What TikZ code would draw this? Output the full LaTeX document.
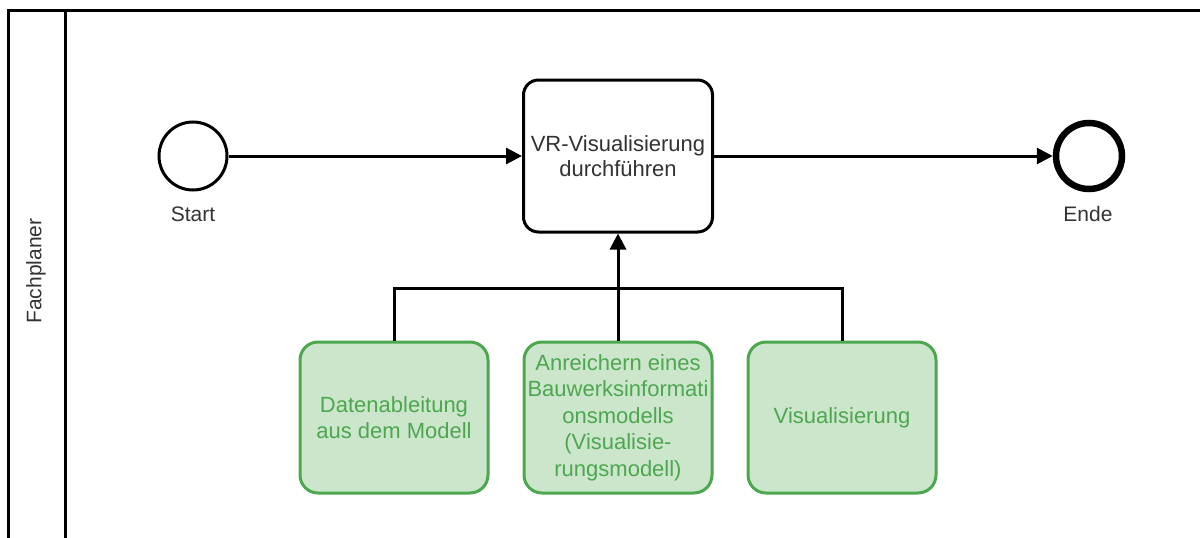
\documentclass[tikz,border=0pt]{standalone}
\usepackage{fontspec}
\setmainfont{Liberation Sans}
\usetikzlibrary{arrows.meta}
\definecolor{lanegreen}{RGB}{76,167,79}
\definecolor{boxgreen}{RGB}{204,230,204}
\definecolor{labelgray}{RGB}{51,51,51}
\tikzset{
  event/.style={circle,draw=black,line width=3pt,fill=white,minimum size=68pt,inner sep=0pt},
  endevent/.style={event,line width=6.5pt,minimum size=66pt},
  task/.style={rectangle,rounded corners=15pt,draw=black,line width=3pt,fill=white,
    minimum width=189pt,minimum height=152pt,inner sep=0pt,align=center,
    text=labelgray,font=\fontsize{22}{25}\selectfont},
  subtask/.style={task,draw=lanegreen,fill=boxgreen,text=lanegreen,rounded corners=18pt,
    minimum width=188pt,minimum height=151pt,font=\fontsize{22}{26.5}\selectfont},
  flow/.style={line width=3pt,-{Triangle[length=16pt,width=16pt]}},
  link/.style={line width=3pt},
  evlabel/.style={text=labelgray,font=\fontsize{21}{25}\selectfont}
}

\begin{document}
\begin{tikzpicture}[line cap=butt,line join=miter,x=1pt,y=-1pt]
    \useasboundingbox (0,0) rectangle (1200,538);
    \clip (0,0) rectangle (1200,538);

    % Pool and lane header
    \draw[line width=3pt] (1205,10) -- (8,10) -- (8,545);
    \draw[line width=3pt] (65,10) -- (65,545);
    \node[evlabel,rotate=90] (lane) at (36,271) {Fachplaner};

    % Events and main task
    \draw(193,156) node[event] (start) {};
    \draw(1089,156) node[endevent] (end) {};
    \draw(618,156) node[task] (task) {VR-Visualisierung\\durchführen};
    \node[evlabel] (startlabel) at (193,214) {Start};
    \node[evlabel] (endlabel) at (1088,214) {Ende};

    % Sub tasks
    \draw(394,417.5) node[subtask] (sub1) {Datenableitung\\aus dem Modell};
    \draw(618,417.5) node[subtask] (sub2) {Anreichern eines\\Bauwerksinformati\\onsmodells\\(Visualisie-\\rungsmodell)};
    \draw(842,417.5) node[subtask] (sub3) {Visualisierung};

    % Edges
    \foreach \source/\target in {start/task, task/end, sub2/task} {
            \draw[flow] (\source) -- (\target);
        }
    \coordinate (bar) at (618,288);
    \draw[link] (sub1.north) |- (bar) -| (sub3.north);
\end{tikzpicture}
\end{document}
